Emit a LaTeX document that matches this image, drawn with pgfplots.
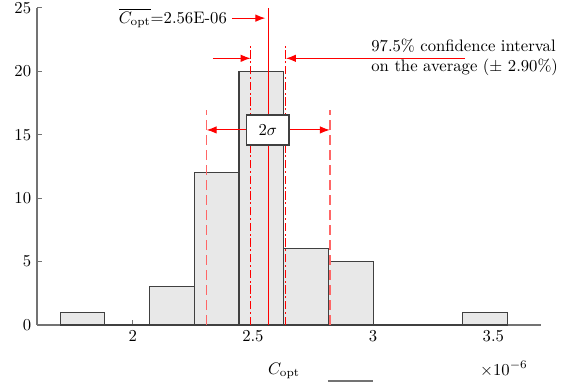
\documentclass[border=0pt]{standalone}
\usepackage{pgfplots}
\pgfplotsset{compat=1.18}
\usetikzlibrary{arrows.meta}
\definecolor{barfill}{HTML}{E8E8E8}
\begin{document}
\begin{tikzpicture}
\begin{axis}[
  width=302.4pt, height=190.2pt, scale only axis,
  xmin=1.602, xmax=3.698, ymin=0, ymax=25,
  axis x line*=bottom, axis y line*=left,
  axis line style={black!55, line width=0.8pt},
  tick style={black!55, line width=0.6pt},
  tick align=inside, major tick length=3.2pt,
  xtick={2,2.5,3,3.5}, ytick={0,5,10,15,20,25},
  xlabel={$C_{\mathrm{opt}}$},
  xlabel style={yshift=-6pt, xshift=-3pt},
  clip=false,
]
\addplot[ybar interval, fill=barfill, draw=black!75, line width=0.7pt] coordinates {
(1.698,1) (1.884,0) (2.070,3) (2.256,12) (2.442,20) (2.628,6) (2.814,5) (3.000,0) (3.186,0) (3.372,1) (3.558,0)
};
% zero-count bins drawn as lines on the base
\addplot[black!75, line width=0.8pt] coordinates {(1.884,0) (2.070,0)};
\addplot[black!75, line width=0.8pt] coordinates {(3.000,0) (3.372,0)};
% mean
\addplot[red, line width=0.65pt] coordinates {(2.564,0) (2.564,25)};
% confidence interval
\addplot[red, line width=0.65pt, dash pattern=on 5pt off 1.6pt on 1.2pt off 1.6pt] coordinates {(2.4906,0) (2.4906,22.1)};
\addplot[red, line width=0.65pt, dash pattern=on 5pt off 1.6pt on 1.2pt off 1.6pt] coordinates {(2.6374,0) (2.6374,22.1)};
% sigma
\addplot[red!60, line width=0.8pt, dash pattern=on 6pt off 3pt] coordinates {(2.3077,0) (2.3077,16.96)};
\addplot[red!60, line width=0.8pt, dash pattern=on 6pt off 3pt] coordinates {(2.820,0) (2.820,16.96)};
% arrows
\draw[red, line width=0.65pt, -{Latex[length=6pt,width=4.5pt]}] (axis cs:2.413,24.2) -- (axis cs:2.552,24.2);
\node[anchor=east, inner sep=1pt] at (axis cs:2.400,24.2) {$\overline{C_{\mathrm{opt}}}$=2.56E-06};
\draw[red, line width=0.65pt, -{Latex[length=6pt,width=4.5pt]}] (axis cs:2.333,21.03) -- (axis cs:2.4906,21.03);
\draw[red, line width=0.65pt, -{Latex[length=6pt,width=4.5pt]}] (axis cs:3.382,21.03) -- (axis cs:2.6374,21.03);
\node[anchor=east, align=left, inner sep=1pt, fill=none] at (axis cs:3.777,21.1) {97.5\% confidence interval\\on the average ($\pm$ 2.90\%)};
\draw[red, line width=0.65pt, -{Latex[length=6pt,width=4.5pt]}] (axis cs:2.474,15.38) -- (axis cs:2.3077,15.38);
\draw[red, line width=0.65pt, -{Latex[length=6pt,width=4.5pt]}] (axis cs:2.650,15.38) -- (axis cs:2.820,15.38);
\node[draw=black!75, line width=0.7pt, fill=white, minimum width=25.4pt, minimum height=18pt, inner sep=0pt] at (axis cs:2.562,15.38) {$2\sigma$};
\node at (axis cs:3.544,-3.47) {$\times10^{-6}$};
\draw[black!55, line width=1pt] (axis cs:2.812,-4.42) -- (axis cs:3.0,-4.42);
\coordinate (BL) at (axis cs:1.448,-4.57);
\coordinate (TR) at (axis cs:3.794,25.63);
\end{axis}
\pgfresetboundingbox
\useasboundingbox (BL) rectangle (TR);
\end{tikzpicture}
\end{document}
